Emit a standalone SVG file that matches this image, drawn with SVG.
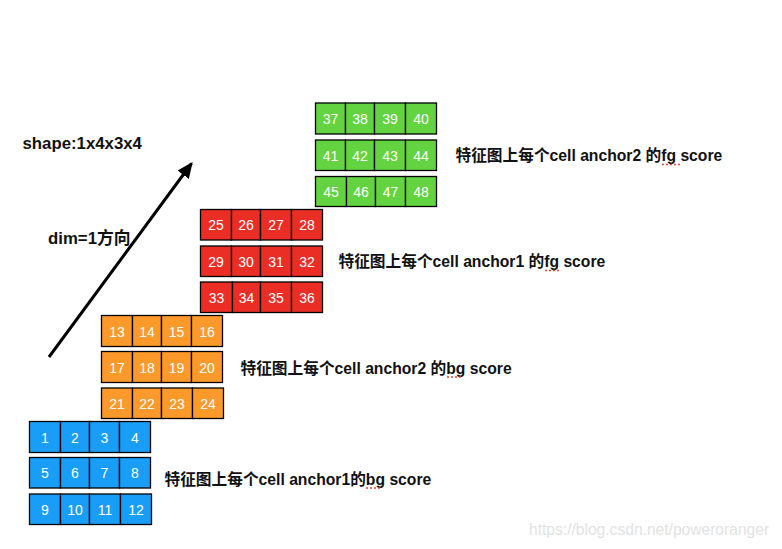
<svg xmlns="http://www.w3.org/2000/svg" width="782" height="549" viewBox="0 0 782 549">
<style>
.c{stroke:#000;stroke-width:1.3}
.b{fill:#189ef7}.o{fill:#fb9a2a}.r{fill:#ea2e25}.g{fill:#63d341}
.n{font-family:"Liberation Sans",Arial,sans-serif;font-size:14px;fill:#fff;text-anchor:middle}
.t{font-family:"Liberation Sans","Noto Sans CJK SC",sans-serif;font-size:15.7px;font-weight:bold;fill:#111}
.s{font-size:16.8px}
.sq{stroke:#e8433a;stroke-width:1.6;stroke-dasharray:2 2;fill:none}
</style>
<defs>
<marker id="ah" markerWidth="16" markerHeight="14" refX="14" refY="7" orient="auto" markerUnits="userSpaceOnUse" viewBox="0 0 16 14">
<path d="M0,0 L16,7 L0,14 z" fill="#000"/>
</marker>
</defs>
<rect width="782" height="549" fill="#fff"/>

<!-- green layer -->
<g id="green-row1" transform="translate(315.5,103)">
<rect class="c g" x="0" y="0" width="30" height="31"/><rect class="c g" x="30" y="0" width="29" height="31"/><rect class="c g" x="59" y="0" width="31" height="31"/><rect class="c g" x="90" y="0" width="31" height="31"/>
<text class="n" x="15" y="21">37</text><text class="n" x="44.5" y="21">38</text><text class="n" x="74.5" y="21">39</text><text class="n" x="105.5" y="21">40</text>
</g>
<g id="green-row2" transform="translate(315.5,140)">
<rect class="c g" x="0" y="0" width="30" height="30.5"/><rect class="c g" x="30" y="0" width="29" height="30.5"/><rect class="c g" x="59" y="0" width="31" height="30.5"/><rect class="c g" x="90" y="0" width="31" height="30.5"/>
<text class="n" x="15" y="21">41</text><text class="n" x="44.5" y="21">42</text><text class="n" x="74.5" y="21">43</text><text class="n" x="105.5" y="21">44</text>
</g>
<g id="green-row3" transform="translate(315.5,176.5)">
<rect class="c g" x="0" y="0" width="31" height="30"/><rect class="c g" x="31" y="0" width="29" height="30"/><rect class="c g" x="60" y="0" width="30" height="30"/><rect class="c g" x="90" y="0" width="31" height="30"/>
<text class="n" x="15.5" y="20.5">45</text><text class="n" x="45.5" y="20.5">46</text><text class="n" x="75" y="20.5">47</text><text class="n" x="105.5" y="20.5">48</text>
</g>

<!-- red layer -->
<g id="red-row1" transform="translate(200.5,209.5)">
<rect class="c r" x="0" y="0" width="31" height="30.5"/><rect class="c r" x="31" y="0" width="29" height="30.5"/><rect class="c r" x="60" y="0" width="31" height="30.5"/><rect class="c r" x="91" y="0" width="31" height="30.5"/>
<text class="n" x="15.5" y="20.5">25</text><text class="n" x="45.5" y="20.5">26</text><text class="n" x="75.5" y="20.5">27</text><text class="n" x="106.5" y="20.5">28</text>
</g>
<g id="red-row2" transform="translate(200.5,246)">
<rect class="c r" x="0" y="0" width="31" height="30.5"/><rect class="c r" x="31" y="0" width="29" height="30.5"/><rect class="c r" x="60" y="0" width="31" height="30.5"/><rect class="c r" x="91" y="0" width="31" height="30.5"/>
<text class="n" x="15.5" y="20.5">29</text><text class="n" x="45.5" y="20.5">30</text><text class="n" x="75.5" y="20.5">31</text><text class="n" x="106.5" y="20.5">32</text>
</g>
<g id="red-row3" transform="translate(200.5,282)">
<rect class="c r" x="0" y="0" width="32" height="30.5"/><rect class="c r" x="32" y="0" width="28" height="30.5"/><rect class="c r" x="60" y="0" width="31" height="30.5"/><rect class="c r" x="91" y="0" width="31" height="30.5"/>
<text class="n" x="16" y="20.5">33</text><text class="n" x="46" y="20.5">34</text><text class="n" x="75.5" y="20.5">35</text><text class="n" x="106.5" y="20.5">36</text>
</g>

<!-- orange layer -->
<g id="orange-row1" transform="translate(101.5,315.5)">
<rect class="c o" x="0" y="0" width="31" height="31"/><rect class="c o" x="31" y="0" width="29" height="31"/><rect class="c o" x="60" y="0" width="30" height="31"/><rect class="c o" x="90" y="0" width="31" height="31"/>
<text class="n" x="15.5" y="21">13</text><text class="n" x="45.5" y="21">14</text><text class="n" x="75" y="21">15</text><text class="n" x="105.5" y="21">16</text>
</g>
<g id="orange-row2" transform="translate(101.5,351.5)">
<rect class="c o" x="0" y="0" width="31" height="31"/><rect class="c o" x="31" y="0" width="29" height="31"/><rect class="c o" x="60" y="0" width="30" height="31"/><rect class="c o" x="90" y="0" width="31" height="31"/>
<text class="n" x="15.5" y="21">17</text><text class="n" x="45.5" y="21">18</text><text class="n" x="75" y="21">19</text><text class="n" x="105.5" y="21">20</text>
</g>
<g id="orange-row3" transform="translate(101.5,388)">
<rect class="c o" x="0" y="0" width="31" height="30.5"/><rect class="c o" x="31" y="0" width="29" height="30.5"/><rect class="c o" x="60" y="0" width="31" height="30.5"/><rect class="c o" x="91" y="0" width="31" height="30.5"/>
<text class="n" x="15.5" y="20.5">21</text><text class="n" x="45.5" y="20.5">22</text><text class="n" x="75.5" y="20.5">23</text><text class="n" x="106.5" y="20.5">24</text>
</g>

<!-- blue layer -->
<g id="blue-row1" transform="translate(29.5,421.5)">
<rect class="c b" x="0" y="0" width="31" height="31"/><rect class="c b" x="31" y="0" width="29" height="31"/><rect class="c b" x="60" y="0" width="30" height="31"/><rect class="c b" x="90" y="0" width="31" height="31"/>
<text class="n" x="15.5" y="21">1</text><text class="n" x="45.5" y="21">2</text><text class="n" x="75" y="21">3</text><text class="n" x="105.5" y="21">4</text>
</g>
<g id="blue-row2" transform="translate(29.5,457.5)">
<rect class="c b" x="0" y="0" width="31" height="30.5"/><rect class="c b" x="31" y="0" width="29" height="30.5"/><rect class="c b" x="60" y="0" width="30" height="30.5"/><rect class="c b" x="90" y="0" width="31" height="30.5"/>
<text class="n" x="15.5" y="20.5">5</text><text class="n" x="45.5" y="20.5">6</text><text class="n" x="75" y="20.5">7</text><text class="n" x="105.5" y="20.5">8</text>
</g>
<g id="blue-row3" transform="translate(29.5,494)">
<rect class="c b" x="0" y="0" width="31" height="30.5"/><rect class="c b" x="31" y="0" width="29" height="30.5"/><rect class="c b" x="60" y="0" width="31" height="30.5"/><rect class="c b" x="91" y="0" width="31" height="30.5"/>
<text class="n" x="15.5" y="20.5">9</text><text class="n" x="45.5" y="20.5">10</text><text class="n" x="75.5" y="20.5">11</text><text class="n" x="106.5" y="20.5">12</text>
</g>

<!-- labels -->
<g id="label-green"><text class="t" x="455.5" y="161">特征图上每个cell anchor2 的fg score</text></g>
<g id="label-red"><text class="t" x="338.5" y="267">特征图上每个cell anchor1 的fg score</text></g>
<g id="label-orange"><text class="t" x="240.5" y="373.5">特征图上每个cell anchor2 的bg score</text></g>
<g id="label-blue"><text class="t" x="164.5" y="484.5">特征图上每个cell anchor1的bg score</text></g>
<g id="label-shape"><text class="t s" x="22.5" y="148.5">shape:1x4x3x4</text></g>
<g id="label-dim"><text class="t s" x="48" y="244">dim=1方向</text></g>

<!-- spell-check squiggles -->
<g id="squiggles">
<line class="sq" x1="662" y1="164.5" x2="680" y2="164.5"/>
<line class="sq" x1="545" y1="270.5" x2="561" y2="270.5"/>
<line class="sq" x1="447" y1="377" x2="463" y2="377"/>
<line class="sq" x1="366" y1="488" x2="382" y2="488"/>
</g>

<!-- connectors -->
<g id="connectors">
<line x1="49" y1="357" x2="191.5" y2="163.5" stroke="#000" stroke-width="3" marker-end="url(#ah)"/>
</g>

<text x="529" y="535" font-family="Liberation Sans,Arial,sans-serif" font-size="15.6" fill="#e2e2e2">https://blog.csdn.net/poweroranger</text>
</svg>
